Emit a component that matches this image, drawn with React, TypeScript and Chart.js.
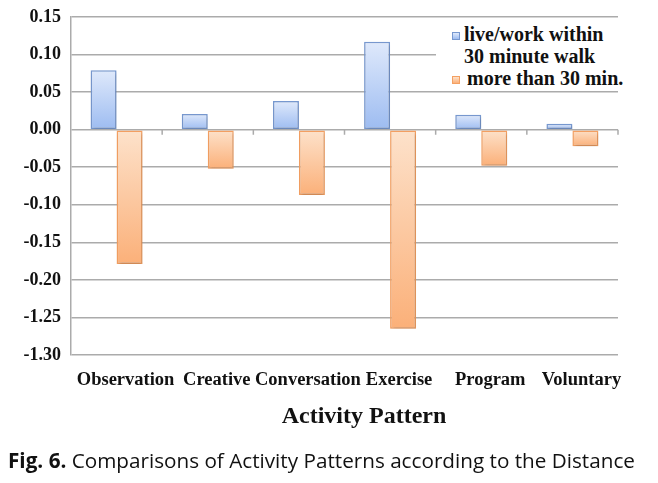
import React, { useEffect, useRef } from "react";
import { Chart, registerables } from "chart.js";

Chart.register(...registerables);

// ---- data ----
const categories = ["Observation", "Creative", "Conversation", "Exercise", "Program", "Voluntary"];
const withinWalk = [0.079, 0.021, 0.038, 0.117, 0.02, 0.008];
const beyondWalk = [-0.179, -0.052, -0.087, -1.265, -0.048, -0.022];
const yTickValues = [0.15, 0.1, 0.05, 0, -0.05, -0.1, -0.15, -0.2, -1.25, -1.3];
const seriesNames = ["live/work within 30 minute walk", "more than 30 min."];

// broken axis: values below the break are shifted up by the gap
const AXIS_BREAK = -0.225;
const AXIS_GAP = 1.0;
const toAxis = (v: number) => (v < AXIS_BREAK ? v + AXIS_GAP : v);

const BLUE_LIGHT = "#dfe9fb";
const BLUE_DARK = "#9dbcf1";
const BLUE_BORDER = "#7798cf";
const ORANGE_LIGHT = "#fde2cb";
const ORANGE_DARK = "#fbb079";
const ORANGE_BORDER = "#f4a062";
const GRID = "#ababab";
const SERIF = "'Liberation Serif', 'Times New Roman', serif";

function gradientFill(light: string, dark: string) {
  return (ctx: any) => {
    const chart = ctx.chart;
    const { chartArea, scales } = chart;
    if (!chartArea || ctx.type !== "data" || !scales.y) return dark;
    const v = ctx.raw as number;
    const y1 = scales.y.getPixelForValue(v);
    const y0 = scales.y.getPixelForValue(0);
    const top = Math.min(y0, y1);
    const bot = Math.max(y0, y1);
    if (bot - top < 1) return dark;
    const g = chart.ctx.createLinearGradient(0, top, 0, bot);
    g.addColorStop(0, light);
    g.addColorStop(1, dark);
    return g;
  };
}

const zeroTicksPlugin = {
  id: "zeroTicks",
  afterDatasetsDraw(chart: any) {
    const { ctx, scales } = chart;
    const x = scales.x;
    const y0 = scales.y.getPixelForValue(0);
    ctx.save();
    ctx.strokeStyle = GRID;
    ctx.lineWidth = 1.5;
    ctx.beginPath();
    for (let i = 1; i <= categories.length; i++) {
      const px = x.getPixelForValue(i - 0.5);
      ctx.moveTo(px, y0);
      ctx.lineTo(px, y0 + 5);
    }
    ctx.stroke();
    ctx.restore();
  },
};

const shadowPlugin = {
  id: "barShadow",
  beforeDatasetsDraw(chart: any) {
    const c = chart.ctx;
    c.save();
    c.shadowColor = "rgba(0,0,0,0.2)";
    c.shadowBlur = 3;
    c.shadowOffsetX = 1;
    c.shadowOffsetY = 2;
  },
  afterDatasetsDraw(chart: any) {
    chart.ctx.restore();
  },
};

export default function App() {
  const canvasRef = useRef<HTMLCanvasElement | null>(null);

  useEffect(() => {
    if (!canvasRef.current) return;
    const chart = new Chart(canvasRef.current, {
      type: "bar",
      data: {
        labels: categories,
        datasets: [
          {
            label: seriesNames[0],
            data: withinWalk.map(toAxis),
            backgroundColor: gradientFill(BLUE_LIGHT, BLUE_DARK),
            borderColor: BLUE_BORDER,
            borderWidth: 1.5,
            borderSkipped: false,
          },
          {
            label: seriesNames[1],
            data: beyondWalk.map(toAxis),
            backgroundColor: gradientFill(ORANGE_LIGHT, ORANGE_DARK),
            borderColor: ORANGE_BORDER,
            borderWidth: 1.5,
            borderSkipped: false,
          },
        ],
      },
      options: {
        responsive: false,
        animation: false,
        datasets: { bar: { categoryPercentage: 0.57, barPercentage: 1.0 } },
        layout: { padding: { top: 17, right: 40, left: 0, bottom: 0 } },
        plugins: { legend: { display: false }, tooltip: { enabled: false }, title: { display: false } },
        scales: {
          x: {
            grid: { display: false, drawTicks: false },
            border: { display: false },
            ticks: {
              color: "#111",
              padding: 14,
              labelOffset: 9,
              maxRotation: 0,
              autoSkip: false,
              font: { family: SERIF, size: 18.5, weight: "bold" },
            },
            afterFit(scale: any) {
              scale.height = 128;
              scale.paddingLeft = 0;
              scale.paddingRight = 0;
            },
          },
          y: {
            min: toAxis(-1.3),
            max: 0.15,
            afterBuildTicks(scale: any) {
              scale.ticks = yTickValues.map((v) => ({ value: toAxis(v) }));
            },
            grid: { color: GRID, lineWidth: 1.5, drawTicks: false },
            border: { display: true, color: GRID, width: 1.5 },
            ticks: {
              color: "#111",
              padding: 10,
              font: { family: SERIF, size: 18, weight: "bold" },
              callback: (_v: any, i: number) => yTickValues[i].toFixed(2),
            },
            afterFit(scale: any) {
              scale.width = 71;
              scale.paddingTop = 0;
              scale.paddingBottom = 0;
            },
          },
        },
      },
      plugins: [shadowPlugin, zeroTicksPlugin],
    });
    return () => chart.destroy();
  }, []);

  const legendText: React.CSSProperties = {
    fontFamily: SERIF,
    fontWeight: "bold",
    fontSize: 20,
    lineHeight: "22px",
    color: "#111",
    whiteSpace: "nowrap",
  };
  const swatch = (light: string, dark: string, border: string): React.CSSProperties => ({
    position: "absolute",
    width: 6,
    height: 6,
    border: `1px solid ${border}`,
    background: `linear-gradient(${light}, ${dark})`,
  });

  return (
    <div style={{ position: "absolute", left: 0, top: 0, width: 658, height: 483, background: "#fff" }}>
      <canvas ref={canvasRef} width={658} height={483} style={{ position: "absolute", left: 0, top: 0 }} />
      {/* legend */}
      <div style={{ position: "absolute", left: 436, top: 21, width: 190, height: 68, background: "#fff" }}>
        <div style={{ ...swatch(BLUE_LIGHT, BLUE_DARK, BLUE_BORDER), left: 16, top: 11 }} />
        <div style={{ ...legendText, position: "absolute", left: 28, top: 2 }}>live/work within</div>
        <div style={{ ...legendText, position: "absolute", left: 28, top: 24 }}>30 minute walk</div>
        <div style={{ ...swatch(ORANGE_LIGHT, ORANGE_DARK, ORANGE_BORDER), left: 16, top: 55 }} />
        <div style={{ ...legendText, position: "absolute", left: 31, top: 46 }}>more than 30 min.</div>
      </div>
      {/* axis title */}
      <div
        style={{
          position: "absolute",
          left: 214,
          width: 300,
          top: 403,
          textAlign: "center",
          fontFamily: SERIF,
          fontWeight: "bold",
          fontSize: 24,
          lineHeight: "24px",
          color: "#111",
        }}
      >
        Activity Pattern
      </div>
      {/* caption */}
      <div
        style={{
          position: "absolute",
          left: 8,
          top: 450,
          fontFamily: "'Open Sans', Lato, sans-serif",
          fontSize: 20.7,
          lineHeight: "20.7px",
          color: "#111",
          whiteSpace: "nowrap",
        }}
      >
        <b>Fig. 6.</b> Comparisons of Activity Patterns according to the Distance
      </div>
    </div>
  );
}
